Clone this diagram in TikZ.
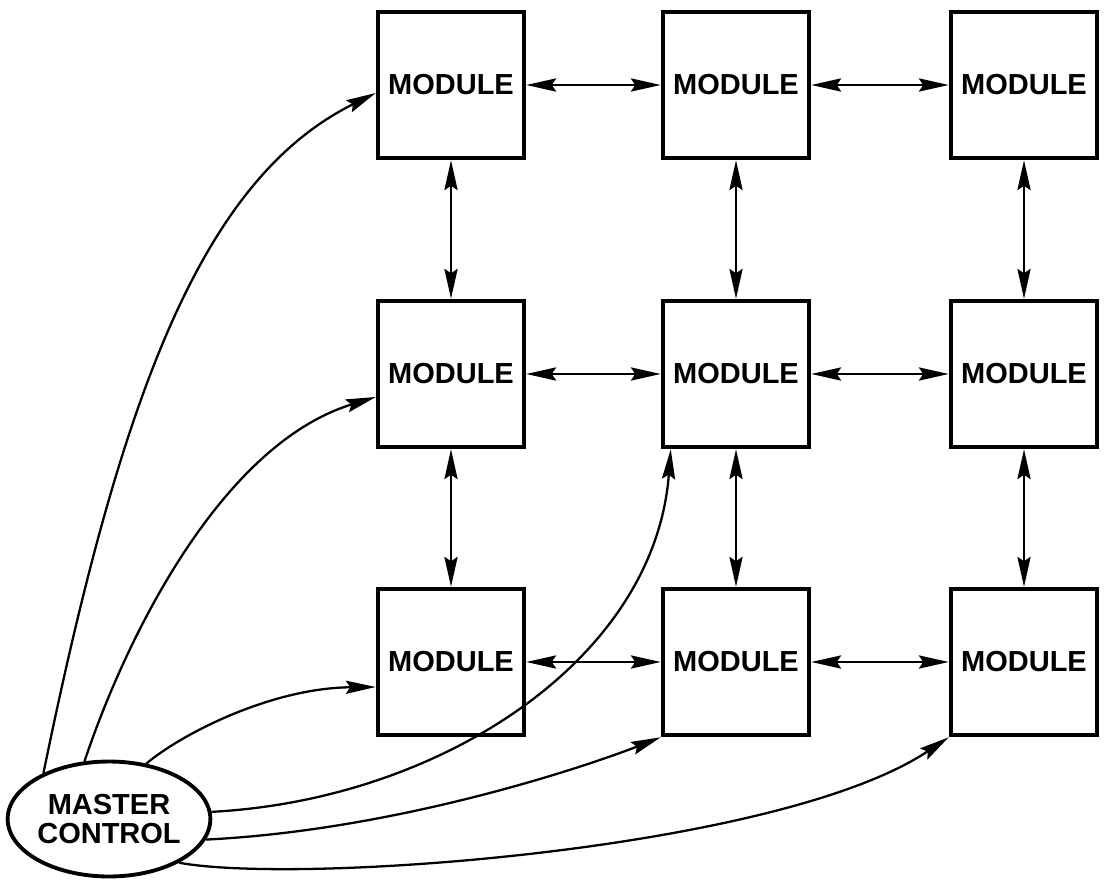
\documentclass[tikz,border=0pt]{standalone}
\usepackage{fontspec}
\setmainfont{Liberation Sans}
\usetikzlibrary{arrows.meta, shapes.geometric}

\begin{document}
\begin{tikzpicture}[x=0.02cm, y=-0.02cm, >={Stealth[length=17pt, width=7.5pt, inset=2.5pt]},
  module/.style={draw, line width=2.6pt, minimum size=2.92cm, inner sep=0pt,
    font=\fontsize{16.5}{18}\selectfont\bfseries},
  link/.style={<->, line width=1.3pt},
  ctrl/.style={->, line width=1.3pt}]
  \useasboundingbox (0,0) rectangle (1104,881);
  % Modules
  \foreach \r/\y in {1/85, 2/374, 3/662}
    \foreach \c/\x in {1/451, 2/736, 3/1024}
      \node[module] (m\r\c) at (\x,\y) {MODULE};
  % Master control
  \node[ellipse, draw, line width=2.2pt, minimum width=3.84cm, minimum height=2.3cm,
    inner sep=0pt, align=center, font=\fontsize{16.5}{17}\selectfont\bfseries]
    (master) at (109,819) {MASTER\\CONTROL};
  % Horizontal links
  \foreach \r in {1,2,3} {
    \draw[link] (m\r1.east) -- (m\r2.west);
    \draw[link] (m\r2.east) -- (m\r3.west);
  }
  % Vertical links
  \foreach \c in {1,2,3} {
    \draw[link] (m1\c.south) -- (m2\c.north);
    \draw[link] (m2\c.south) -- (m3\c.north);
  }
  % Control lines
  \draw[ctrl] (master.145) .. controls (120,400) and (200,180) .. ([yshift=-0.16cm]m11.west);
  \draw[ctrl] (master.113) .. controls (125,640) and (220,445) .. ([yshift=-0.46cm]m21.west);
  \draw[ctrl] (master.56) .. controls (180,735) and (270,688) .. ([yshift=-0.5cm]m31.west);
  \draw[ctrl] (master.4) .. controls (440,800) and (655,660) .. ([xshift=0.2cm]m22.south west);
  \draw[ctrl] (master.-12) .. controls (400,830) and (590,765) .. (m32.south west);
  \draw[ctrl] (master.-32) .. controls (300,885) and (780,850) .. (m33.south west);
\end{tikzpicture}
\end{document}
